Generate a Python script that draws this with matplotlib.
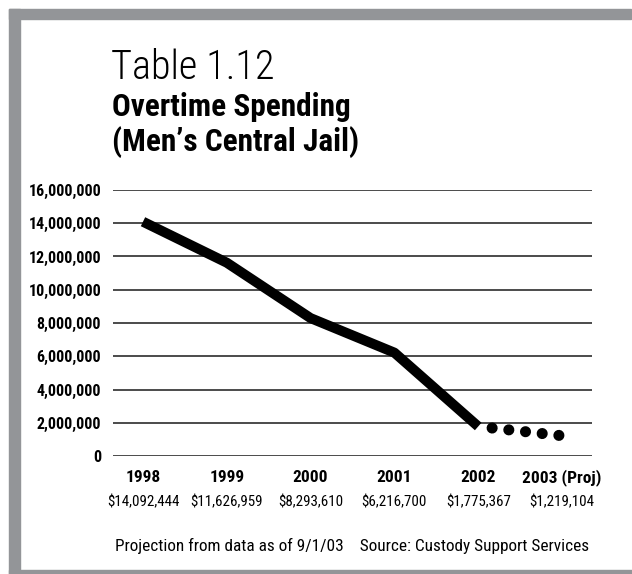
import numpy as np
import matplotlib.pyplot as plt
from matplotlib.patches import Rectangle

# Overtime spending by year
years = ["1998", "1999", "2000", "2001", "2002", "2003 (Proj)"]
spending = [14092444, 11626959, 8293610, 6216700, 1775367, 1219104]
amount_labels = ["$14,092,444", "$11,626,959", "$8,293,610",
                 "$6,216,700", "$1,775,367", "$1,219,104"]
y_ticks = [0, 2000000, 4000000, 6000000, 8000000, 10000000,
           12000000, 14000000, 16000000]

plt.rcParams["font.family"] = ["Roboto Condensed", "DejaVu Sans"]

W, H = 632, 574
fig = plt.figure(figsize=(W / 100, H / 100), dpi=100)

# grey frame on top, left and bottom
frame = "#939598"
fig.patches.append(Rectangle((9 / W, 1 - 19 / H), 622 / W, 10 / H,
                             color=frame, transform=fig.transFigure))
fig.patches.append(Rectangle((9 / W, 0), 11 / W, 1 - 9 / H, color=frame,
                             transform=fig.transFigure))
fig.patches.append(Rectangle((9 / W, 0), 1, 4 / H, color=frame,
                             transform=fig.transFigure))

# titles
fig.text(111 / W, 1 - 79 / H, "Table 1.12", fontsize=29,
         fontweight="light", va="baseline")
fig.text(112 / W, 1 - 116 / H, "Overtime Spending",
         fontsize=22.5, fontweight="bold", va="baseline")
fig.text(112 / W, 1 - 151 / H, "(Men\u2019s Central Jail)",
         fontsize=22.5, fontweight="bold", va="baseline")

ax = fig.add_axes([113 / W, 1 - 456 / H, (592 - 113) / W, (456 - 190) / H])
x = np.arange(len(years))

for v in y_ticks:
    ax.axhline(v, color="#1a1a1a", lw=1.1, zorder=1)

# actual spending, solid
ax.plot(x[:5], spending[:5], color="black", lw=7.2, solid_capstyle="butt",
        solid_joinstyle="round", zorder=3)
# projection, dotted
ax.plot(x[4:], spending[4:], color="black", lw=8,
        linestyle=(0.25, (0.001, 1.51)), dash_capstyle="round", zorder=3)

ax.set_xlim(-0.358, 5.358)
ax.set_ylim(0, 16000000)
ax.set_yticks(y_ticks)
ax.set_yticklabels([f"{v:,}" for v in y_ticks], fontsize=11.5,
                   fontweight="bold")
ax.tick_params(axis="y", length=0, pad=8.5)
ax.set_xticks([])
for s in ax.spines.values():
    s.set_visible(False)

for i in range(len(years)):
    ax.text(x[i], -0.081, years[i], transform=ax.get_xaxis_transform(),
            ha="center", va="center", fontsize=12.5, fontweight="bold")
    ax.text(x[i], -0.173, amount_labels[i], transform=ax.get_xaxis_transform(),
            ha="center", va="center", fontsize=10.8)

fig.text(589 / W, 1 - 546 / H,
         "Projection from data as of 9/1/03    Source: Custody Support Services",
         ha="right", va="center", fontsize=12.4)

fig.savefig("out.png", dpi=100)
